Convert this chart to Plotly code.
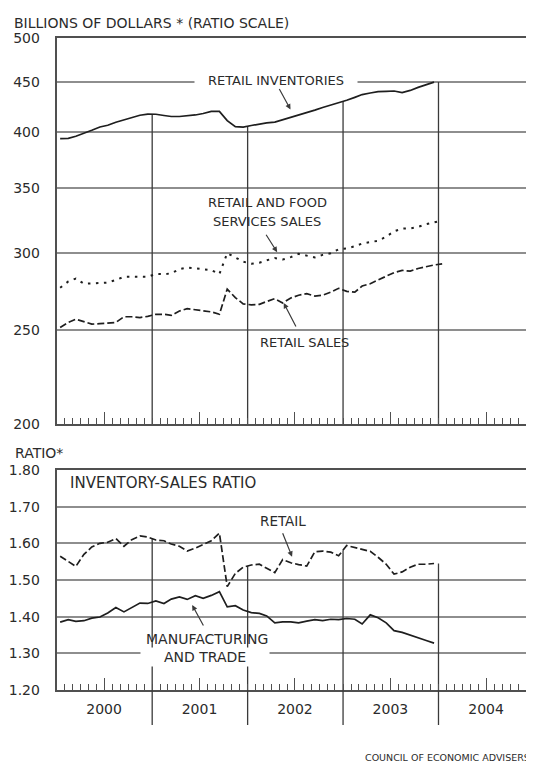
import numpy as np
import pandas as pd
import plotly.graph_objects as go

# ---------------- data ----------------
# monthly, Jan 2000 .. Jan 2004 (sales) / Dec 2003 (inventories, ratios)
RETAIL_INVENTORIES = [393.8, 394, 396, 398.5, 401.6, 404.8, 406.5, 409.4, 411.9, 413.8, 416.2, 417.4,
                      417.2, 416, 415, 415, 415.5, 416.5, 418, 420, 420, 411, 405.2, 404.6,
                      406.2, 407.8, 408.7, 409.5, 411.7, 414.3, 416.8, 419, 421.3, 424, 426.3, 428.6,
                      431.3, 434.3, 437.2, 438.8, 440.3, 440.6, 440.9, 439.3, 441.5, 444.7, 447.8, 450.3]
RETAIL_FOOD_SALES = [276.4, 280.5, 282.5, 279, 279.2, 279.4, 279.8, 281.5, 283.7, 283.7, 283.5, 283.6,
                     285.6, 285.4, 286, 288.8, 290, 289.3, 288.8, 288.2, 285.5, 300, 297, 294,
                     292.6, 293.3, 295, 296.5, 295.5, 297.2, 299.5, 298.5, 297, 298.8, 300, 302.8,
                     303.4, 305, 307, 308, 309, 312, 316, 318, 318.2, 319.3, 321.4, 322.7, 324.2]
RETAIL_SALES = [251.5, 254.5, 256.5, 255, 253.5, 253.8, 254, 254.5, 258, 258, 257.5, 258.2,
                259.5, 259.5, 258.8, 261.5, 263, 262.3, 261.5, 261, 259.5, 275.5, 270, 266,
                265.4, 265.7, 267.5, 269.3, 266.6, 269.7, 271.5, 272.5, 271, 271.5, 273.5, 276,
                274, 273.5, 277.5, 279, 281.5, 284, 286.5, 288, 287.5, 289.3, 290.6, 291.7, 292.5]
RATIO_RETAIL = [1.565, 1.55, 1.537, 1.57, 1.59, 1.60, 1.603, 1.613, 1.592, 1.61, 1.62, 1.617,
                1.609, 1.607, 1.598, 1.592, 1.579, 1.587, 1.596, 1.607, 1.628, 1.482, 1.518, 1.535,
                1.541, 1.543, 1.532, 1.52, 1.556, 1.547, 1.542, 1.538, 1.577, 1.579, 1.576, 1.566,
                1.594, 1.588, 1.583, 1.578, 1.562, 1.543, 1.516, 1.522, 1.535, 1.543, 1.543, 1.545]
RATIO_MFG_TRADE = [1.385, 1.392, 1.387, 1.389, 1.396, 1.399, 1.41, 1.425, 1.413, 1.425, 1.437, 1.436,
                   1.443, 1.436, 1.448, 1.454, 1.447, 1.457, 1.45, 1.458, 1.468, 1.427, 1.43, 1.418,
                   1.411, 1.409, 1.402, 1.383, 1.386, 1.386, 1.383, 1.388, 1.392, 1.389, 1.393, 1.392,
                   1.395, 1.393, 1.38, 1.405, 1.397, 1.383, 1.362, 1.357, 1.349, 1.343, 1.335, 1.328]

YEAR_LABELS = ["2000", "2001", "2002", "2003", "2004"]
TOP_TICKS = [200, 250, 300, 350, 400, 450, 500]
BOTTOM_TICKS = [1.20, 1.30, 1.40, 1.50, 1.60, 1.70, 1.80]

MONTHS_SALES = pd.date_range("2000-01-01", periods=len(RETAIL_SALES), freq="MS") + pd.Timedelta(days=14)
MONTHS_INV = MONTHS_SALES[:len(RETAIL_INVENTORIES)]
YEAR_MIDS = [f"{y}-07-01" for y in YEAR_LABELS]
YEAR_BOUNDS = [pd.Timestamp(f"{y}-01-01") for y in YEAR_LABELS[1:]]

# ---------------- styling ----------------
PAGE_OFF = 8            # default body margin of the html page
W, H = 534 - PAGE_OFF, 764 - PAGE_OFF
FONT = "DejaVu Sans"
TXT = "#2b2b2b"
FRAME = "#505050"
GRID = "#8e8e8e"
LINE = "#1e1e1e"
DROP = "#3a3a3a"

def px(x):
    return (x - PAGE_OFF) / W

def py(y):
    return 1 - (y - PAGE_OFF) / H

XD = [px(56.5), px(530)]
TOP_D = [py(424), py(38)]
BOT_D = [py(690), py(470)]
XRANGE = ["2000-01-01", "2004-12-16"]

def interp_at(dates, series, t):
    xs = dates.asi8.astype(float)
    return float(np.interp(float(t.value), xs, series))

fig = go.Figure()

# drop lines (year boundaries) up to the data line
dx, dy_top, dy_bot = [], [], []
for b in YEAR_BOUNDS:
    dx += [b, b, None]
    dy_top += [200, interp_at(MONTHS_INV, RETAIL_INVENTORIES, b), None]
    dy_bot += [1.2, interp_at(MONTHS_INV, RATIO_RETAIL, b), None]

fig.add_trace(go.Scatter(x=dx, y=dy_top, mode="lines", line=dict(color=DROP, width=1.3),
                         xaxis="x", yaxis="y", hoverinfo="skip"))
fig.add_trace(go.Scatter(x=dx, y=dy_bot, mode="lines", line=dict(color=DROP, width=1.3),
                         xaxis="x2", yaxis="y2", hoverinfo="skip"))

# top panel series
fig.add_trace(go.Scatter(x=MONTHS_INV, y=RETAIL_INVENTORIES, mode="lines",
                         line=dict(color=LINE, width=1.7), xaxis="x", yaxis="y"))
fig.add_trace(go.Scatter(x=MONTHS_SALES, y=RETAIL_FOOD_SALES, mode="lines",
                         line=dict(color=LINE, width=2.0, dash="2.5px,5.5px"), xaxis="x", yaxis="y"))
fig.add_trace(go.Scatter(x=MONTHS_SALES, y=RETAIL_SALES, mode="lines",
                         line=dict(color=LINE, width=1.7, dash="7px,3px"), xaxis="x", yaxis="y"))

# bottom panel series
fig.add_trace(go.Scatter(x=MONTHS_INV, y=RATIO_RETAIL, mode="lines",
                         line=dict(color=LINE, width=1.7, dash="7px,3px"), xaxis="x2", yaxis="y2"))
fig.add_trace(go.Scatter(x=MONTHS_INV, y=RATIO_MFG_TRADE, mode="lines",
                         line=dict(color=LINE, width=1.7), xaxis="x2", yaxis="y2"))

common_x = dict(type="date", range=XRANGE, domain=XD, showgrid=False, zeroline=False,
                automargin=False,
                showline=True, mirror=True, linecolor=FRAME, linewidth=1.5,
                tickmode="array", tickvals=YEAR_MIDS, ticktext=YEAR_LABELS,
                ticks="inside", ticklen=12, tickwidth=1, tickcolor=FRAME,
                minor=dict(tickmode="linear", tick0="2000-01-01", dtick="M1",
                           ticks="inside", ticklen=6, tickwidth=1, tickcolor=FRAME, showgrid=False))

common_y = dict(showgrid=True, gridcolor=GRID, gridwidth=1.8, zeroline=False, automargin=False,
                showline=True, mirror=True, linecolor=FRAME, linewidth=1.5,
                ticks="", tickfont=dict(size=14, color=TXT), ticklabelstandoff=12)

fig.update_layout(
    width=W, height=H, margin=dict(l=0, r=0, t=0, b=0, pad=0), autosize=False,
    paper_bgcolor="white", plot_bgcolor="white", showlegend=False,
    font=dict(family=FONT, color=TXT, size=13),
    xaxis=dict(common_x, anchor="y", showticklabels=False),
    xaxis2=dict(common_x, anchor="y2", showticklabels=True,
                tickfont=dict(size=14, color=TXT), ticklabelstandoff=5),
    yaxis=dict(common_y, type="log", domain=TOP_D, anchor="x",
               range=[np.log10(200), np.log10(500)],
               tickmode="array", tickvals=TOP_TICKS, ticktext=[str(v) for v in TOP_TICKS]),
    yaxis2=dict(common_y, domain=BOT_D, anchor="x2", range=[1.2, 1.8],
                tickmode="array", tickvals=BOTTOM_TICKS, tickformat=".2f"),
)

# year separators below the bottom axis
for b in YEAR_BOUNDS:
    fig.add_shape(type="line", xref="x2", yref="paper", x0=b, x1=b, y0=py(725), y1=py(690),
                  line=dict(color=DROP, width=1.3))

def label(text, x, y, size=13, xanchor="center", **kw):
    fig.add_annotation(text=text, x=px(x), y=py(y), xref="paper", yref="paper",
                       showarrow=False, xanchor=xanchor, yanchor="middle",
                       font=dict(size=size, color=TXT, family=FONT), **kw)

label("BILLIONS OF DOLLARS * (RATIO SCALE)", 12, 23, size=14, xanchor="left")
label("RATIO*", 13, 453, size=14, xanchor="left")
label("INVENTORY-SALES RATIO", 68, 483, size=15, xanchor="left")
label("RETAIL INVENTORIES", 276, 81, size=13, bgcolor="white", width=160, borderpad=1)
label("RETAIL AND FOOD", 267, 202, size=13)
label("SERVICES SALES", 267, 222, size=13)
label("RETAIL SALES", 304, 342, size=13)
label("RETAIL", 283, 521, size=13.5)
label("MANUFACTURING", 207, 639, size=14)
label("AND TRADE", 205, 657, size=14, bgcolor="white", width=126, borderpad=1)
label("COUNCIL OF ECONOMIC ADVISERS", 532, 757, size=9.5, xanchor="right")

def arrow(xref, yref, x, y, ax, ay):
    fig.add_annotation(text="", x=x, y=y, xref=xref, yref=yref, ax=ax, ay=ay,
                       showarrow=True, arrowhead=2, arrowsize=0.9, arrowwidth=1.2,
                       arrowcolor=DROP, standoff=0)

arrow("x", "y", "2002-06-14", np.log10(422), -12, -22)
arrow("x", "y", "2002-04-24", np.log10(300.7), -12, -19)
arrow("x", "y", "2002-05-19", np.log10(266.5), 13, 25)
arrow("x2", "y2", "2002-06-20", 1.5636, -10, -25)
arrow("x2", "y2", "2001-06-03", 1.432, 12, 22)

fig.write_html("out.html")
